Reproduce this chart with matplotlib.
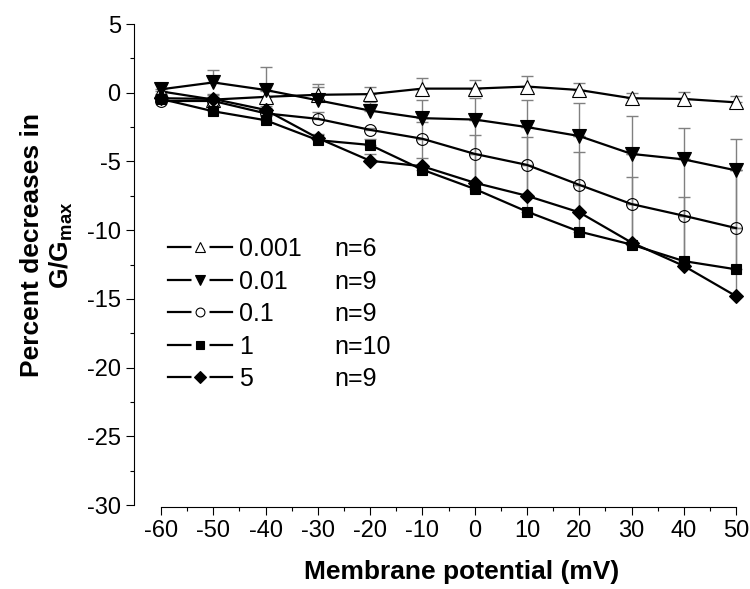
import numpy as np
import matplotlib
matplotlib.use('Agg')
import matplotlib.pyplot as plt
from matplotlib.lines import Line2D
from matplotlib.legend_handler import HandlerTuple
from matplotlib.ticker import MultipleLocator

plt.rcParams['font.family'] = 'Liberation Sans'
plt.rcParams['axes.unicode_minus'] = False
plt.rcParams['mathtext.fontset'] = 'custom'
plt.rcParams['mathtext.rm'] = 'Liberation Sans'
plt.rcParams['mathtext.bf'] = 'Liberation Sans:bold'

# data
potential = [-60, -50, -40, -30, -20, -10, 0, 10, 20, 30, 40, 50]
conc = ['0.001', '0.01', '0.1', '1', '5']
n_cells = ['n=6', 'n=9', 'n=9', 'n=10', 'n=9']

g_0001 = [0.1, -0.5, -0.3, -0.15, -0.1, 0.3, 0.3, 0.45, 0.2, -0.4, -0.45, -0.7]
g_001 = [0.25, 0.75, 0.2, -0.55, -1.3, -1.85, -1.95, -2.5, -3.15, -4.45, -4.85, -5.65]
g_01 = [-0.6, -0.6, -1.5, -1.9, -2.7, -3.35, -4.45, -5.25, -6.7, -8.1, -8.95, -9.85]
g_1 = [-0.45, -1.35, -2.0, -3.45, -3.8, -5.6, -7.0, -8.65, -10.1, -11.05, -12.25, -12.85]
g_5 = [-0.4, -0.45, -1.25, -3.3, -4.95, -5.35, -6.55, -7.5, -8.7, -10.9, -12.6, -14.8]

# upper error (SEM), only plus direction drawn
e_0001 = [0.6, 0.4, 0.4, 0.75, 0.5, 0.75, 0.6, 0.8, 0.5, 0.4, 0.5, 0.45]
e_001 = [0.4, 0.9, 1.65, 0.95, 0.6, 1.3, 1.6, 1.95, 2.4, 2.75, 2.3, 2.25]
e_01 = [0.3, 0.3, 0.4, 0.5, 0.1, 1.2, 1.35, 2.05, 2.4, 1.95, 1.35, 4.2]
e_1 = [0.3, 0.3, 0.3, 0.4, 0.4, 2.25, 5.05, 6.15, 6.95, 6.6, 7.4, 7.2]
e_5 = [0.3, 0.3, 0.3, 0.3, 0.5, 0.6, 2.1, 2.25, 2.0, 2.8, 3.65, 4.95]

series = [g_0001, g_001, g_01, g_1, g_5]
errors = [e_0001, e_001, e_01, e_1, e_5]
markers = ['^', 'v', 'o', 's', 'D']
faces = ['white', 'black', 'none', 'black', 'black']
sizes = [10, 10, 8.5, 7.5, 7.5]

fig = plt.figure(figsize=(7.5, 5.89), dpi=100)
ax = fig.add_axes([0.2147, 0.1426, 0.7667, 0.8166])

for i in range(5):
    ax.errorbar(potential, series[i], yerr=[np.zeros(12), errors[i]], fmt='none',
                ecolor='#808080', elinewidth=1, capsize=4, capthick=1,
                zorder=2, clip_on=False)
for i in range(5):
    ax.plot(potential, series[i], color='black', lw=1.6, marker=markers[i],
            ms=sizes[i], mfc=faces[i], mec='black', mew=0.8,
            zorder=3 + i, clip_on=False)

ax.set_xlim(-60, 50)
ax.set_ylim(-30, 5)
ax.xaxis.set_major_locator(MultipleLocator(10))
ax.xaxis.set_minor_locator(MultipleLocator(5))
ax.yaxis.set_major_locator(MultipleLocator(5))
ax.yaxis.set_minor_locator(MultipleLocator(2.5))
ax.tick_params(which='major', direction='out', length=5.5, width=0.8, labelsize=17, pad=4)
ax.tick_params(which='minor', direction='out', length=3, width=0.8)

ax.spines['top'].set_visible(False)
ax.spines['right'].set_visible(False)
ax.spines['left'].set_position(('outward', 19.5))
ax.spines['bottom'].set_position(('outward', 1.5))
for s in ['left', 'bottom']:
    ax.spines[s].set_linewidth(0.8)

ax.set_xlabel('Membrane potential (mV)', fontsize=19, fontweight='bold')
ax.xaxis.set_label_coords(0.522, -0.115)
ax.set_ylabel('Percent decreases in\nG/G$_{\\mathbf{max}}$', fontsize=19,
              fontweight='bold', linespacing=1.15)
ax.yaxis.set_label_coords(-0.15, 0.54)

# legend: line - gap - marker - gap - line
handles = []
for i in range(5):
    seg = Line2D([], [], color='black', lw=1.6)
    mask = Line2D([], [], ls='none', marker='s', ms=13, mfc='white', mec='none')
    mk = Line2D([], [], ls='none', marker=markers[i], ms=sizes[i] * 0.75,
                mfc=faces[i] if faces[i] != 'none' else 'white', mec='black', mew=0.8)
    handles.append((seg, mask, mk))
for i in range(5):
    handles.append(Line2D([], [], alpha=0))
ax.legend(handles, conc + n_cells, ncol=2, loc='upper left',
          bbox_to_anchor=(0.012, 0.557), frameon=False, fontsize=18,
          handlelength=2.56, handletextpad=0.28, columnspacing=-1.52,
          labelspacing=0.34, borderpad=0, borderaxespad=0, numpoints=1,
          handler_map={tuple: HandlerTuple(ndivide=1, pad=0)})

fig.savefig('out.png', dpi=100)
